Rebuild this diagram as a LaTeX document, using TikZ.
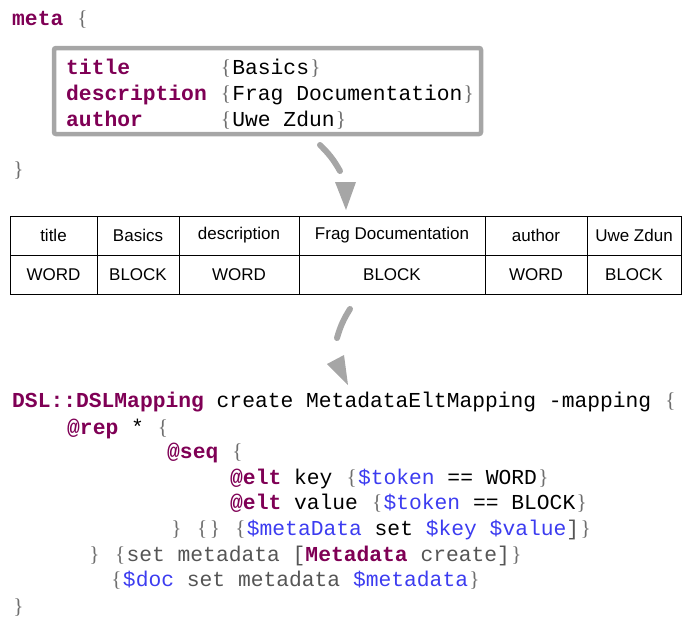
\documentclass[tikz,border=0pt]{standalone}
\usepackage{fontspec}
\usepackage{xcolor}
\setmainfont{Liberation Serif}
\setsansfont{Liberation Sans}
\setmonofont{Liberation Mono}
\usetikzlibrary{positioning}

\definecolor{kwpurple}{HTML}{7F0055}
\definecolor{varblue}{HTML}{3C3CF0}
\definecolor{dimgray}{HTML}{555555}
\definecolor{bracegray}{HTML}{6E6E6E}
\definecolor{arrowgray}{HTML}{A6A6A6}

\newcommand\kw[1]{\textcolor{kwpurple}{\bfseries #1}}
\newcommand\vr[1]{\textcolor{varblue}{#1}}
\newcommand\gtxt[1]{\textcolor{dimgray}{#1}}
\newcommand\obr{\textcolor{bracegray}{\makebox[0.6em]{\rmfamily\{}}}
\newcommand\cbr{\textcolor{bracegray}{\makebox[0.6em]{\rmfamily\}}}}

\begin{document}
\begin{tikzpicture}[x=1pt, y=-1pt,
    code/.style={anchor=base west, inner sep=0pt, font=\ttfamily\fontsize{21.3}{25}\selectfont},
    cell/.style={draw, line width=0.9pt, minimum height=39pt, inner sep=0pt, font=\sffamily\fontsize{17}{17}\selectfont},
    flowline/.style={arrowgray, line width=6pt, line cap=round},
    flowhead/.style={fill=arrowgray}]
    \useasboundingbox (0,0) rectangle (682,619);

    % Source
    \node[code] (meta_open) at (12,25) {\kw{meta} \obr};
    \node[draw=arrowgray, line width=4.5pt, rounded corners=2pt, minimum width=427pt, minimum height=86pt] (meta_box) at (267.5,91) {};
    \node[code] (m_title) at (66,74) {\kw{title}\hspace{4.2em}\obr Basics\cbr};
    \node[code] (m_desc) at (66,100) {\kw{description} \obr Frag Documentation\cbr};
    \node[code] (m_author) at (66,126) {\kw{author}\hspace{3.6em}\obr Uwe Zdun\cbr};
    \node[code] (meta_close) at (12,176) {\cbr};

    % Token table
    \node[cell, minimum width=87pt] (t_title) at (53.5,235.5) {title};
    \node[cell, minimum width=82pt] (t_basics) at (138,235.5) {Basics};
    \node[cell, minimum width=120pt] (t_desc) at (239,235.5) {description};
    \node[cell, minimum width=186pt] (t_frag) at (392,235.5) {Frag Documentation};
    \node[cell, minimum width=102pt] (t_author) at (536,235.5) {author};
    \node[cell, minimum width=94pt] (t_uwe) at (634,235.5) {Uwe Zdun};
    \node[cell, minimum width=87pt] (k_title) at (53.5,274.5) {WORD};
    \node[cell, minimum width=82pt] (k_basics) at (138,274.5) {BLOCK};
    \node[cell, minimum width=120pt] (k_desc) at (239,274.5) {WORD};
    \node[cell, minimum width=186pt] (k_frag) at (392,274.5) {BLOCK};
    \node[cell, minimum width=102pt] (k_author) at (536,274.5) {WORD};
    \node[cell, minimum width=94pt] (k_uwe) at (634,274.5) {BLOCK};

    % Mapping code
    \node[code] (c1) at (12,407) {\kw{DSL::DSLMapping} create MetadataEltMapping -mapping \obr};
    \node[code] (c2) at (67,434) {\kw{@rep} * \obr};
    \node[code] (c3) at (167,458) {\kw{@seq} \obr};
    \node[code] (c4) at (230,484) {\kw{@elt} key \obr\vr{\$token} == WORD\cbr};
    \node[code] (c5) at (230,509) {\kw{@elt} value \obr\vr{\$token} == BLOCK\cbr};
    \node[code] (c6) at (170,535) {\cbr{} \obr\cbr{} \obr\vr{\$metaData} set \vr{\$key} \vr{\$value}\gtxt{]}\cbr};
    \node[code] (c7) at (88,561) {\cbr{} \obr\gtxt{set metadata [}\kw{Metadata} \gtxt{create]}\cbr};
    \node[code] (c8) at (110,586) {\obr\vr{\$doc} \gtxt{set metadata} \vr{\$metadata}\cbr};
    \node[code] (c9) at (12,613) {\cbr};

    % Arrows
    \coordinate (a1_from) at (320,145);
    \coordinate (a1_to) at (340,171);
    \coordinate (h1_tip) at (346,210);
    \coordinate (a2_from) at (350,309);
    \coordinate (a2_to) at (337,338);
    \coordinate (h2_tip) at (348,385);
    \draw[flowline] (a1_from) to[bend left=8] (a1_to);
    \fill[flowhead] (h1_tip) -- (335,182) -- (356,182) -- cycle;
    \draw[flowline] (a2_from) to[bend right=8] (a2_to);
    \fill[flowhead] (h2_tip) -- (327,364) -- (344,355) -- cycle;
\end{tikzpicture}
\end{document}
